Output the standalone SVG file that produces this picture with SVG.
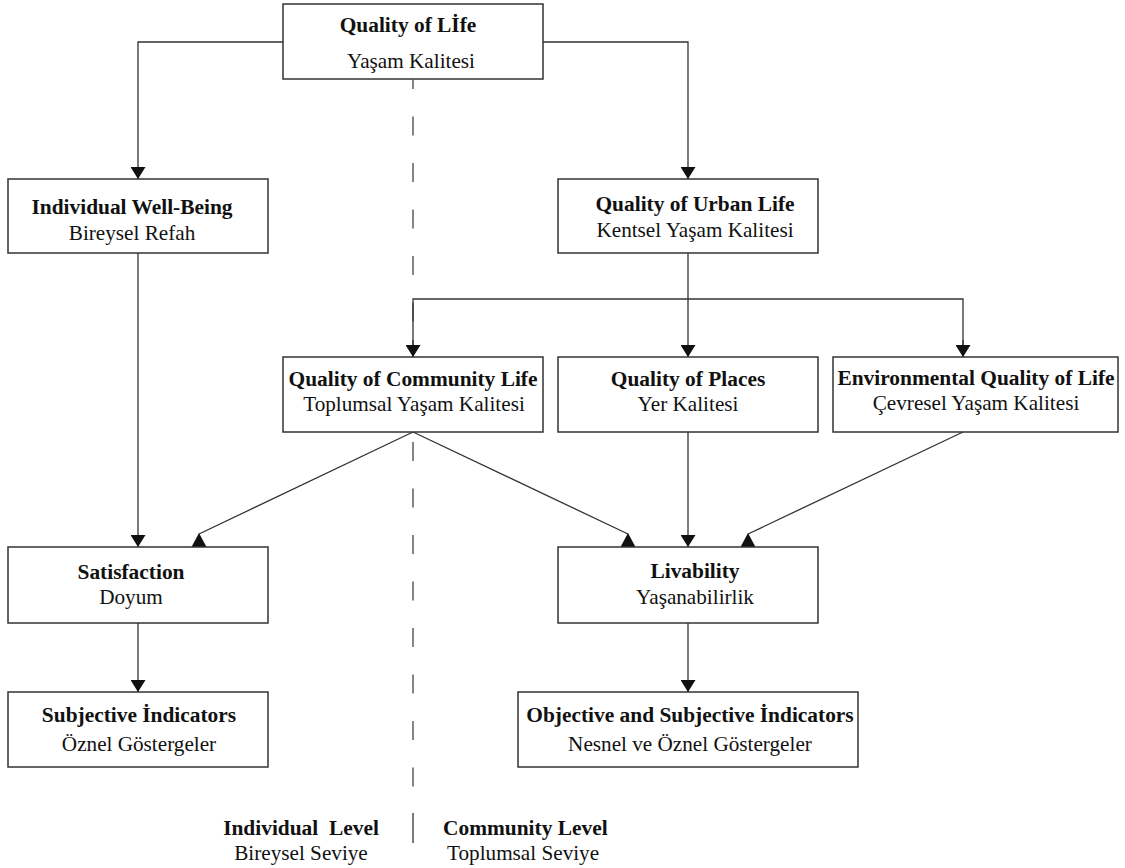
<svg xmlns="http://www.w3.org/2000/svg" width="1125" height="868" viewBox="0 0 1125 868">
<style>
  .box { fill: #ffffff; stroke: #333333; stroke-width: 1.5; }
  .ln { fill: none; stroke: #333333; stroke-width: 1.3; }
  .dash { fill: none; stroke: #444444; stroke-width: 1.3; stroke-dasharray: 19 27.5; stroke-dashoffset: 9.5; }
  .head { fill: #111111; stroke: none; }
  .b { font-family: "Liberation Serif", "Times New Roman", serif; font-weight: bold; font-size: 21.4px; fill: #111111; text-anchor: middle; }
  .r { font-family: "Liberation Serif", "Times New Roman", serif; font-size: 21.2px; fill: #111111; text-anchor: middle; }
  .st { text-anchor: start; }
</style>
<defs>
  <marker id="arr" markerUnits="userSpaceOnUse" markerWidth="12" markerHeight="15" refX="12" refY="7.5" orient="auto">
    <path d="M0,0 L12,7.5 L0,15 z" fill="#111111"/>
  </marker>
</defs>
<rect width="1125" height="868" fill="#ffffff"/>

<g id="divider">
  <line class="dash" x1="413" y1="79.5" x2="413" y2="790"/>
  <line class="ln" x1="413" y1="813" x2="413" y2="843"/>
</g>

<g id="connectors">
  <polyline class="ln" points="283,42 138,42 138,179" marker-end="url(#arr)"/>
  <polyline class="ln" points="543,42 688,42 688,179" marker-end="url(#arr)"/>
  <line class="ln" x1="138" y1="253" x2="138" y2="547" marker-end="url(#arr)"/>
  <line class="ln" x1="688" y1="253" x2="688" y2="357" marker-end="url(#arr)"/>
  <polyline class="ln" points="413,357 413,299 963,299 963,357" />
  <line class="ln" x1="413" y1="340" x2="413" y2="357" marker-end="url(#arr)"/>
  <line class="ln" x1="963" y1="340" x2="963" y2="357" marker-end="url(#arr)"/>
  <line class="ln" x1="688" y1="432" x2="688" y2="547" marker-end="url(#arr)"/>
  <line class="ln" x1="138" y1="623" x2="138" y2="692" marker-end="url(#arr)"/>
  <line class="ln" x1="688" y1="623" x2="688" y2="692" marker-end="url(#arr)"/>
  <line class="ln" x1="413" y1="432" x2="199" y2="534"/>
  <line class="ln" x1="413" y1="432" x2="628" y2="534"/>
  <line class="ln" x1="963" y1="432" x2="748" y2="534"/>
  <polygon class="head" points="199,533 206.5,547 191.5,547"/>
  <polygon class="head" points="628,533 635.5,547 620.5,547"/>
  <polygon class="head" points="748,533 755.5,547 740.5,547"/>
</g>

<g id="n-qol">
  <rect class="box" x="283" y="4" width="260" height="75"/>
  <text class="b" x="408" y="32">Quality of Lİfe</text>
  <text class="r" x="411" y="68">Yaşam Kalitesi</text>
</g>
<g id="n-individual">
  <rect class="box" x="8" y="179" width="260" height="74"/>
  <text class="b" x="132" y="214">Individual Well-Being</text>
  <text class="r" x="132" y="240">Bireysel Refah</text>
</g>
<g id="n-urban">
  <rect class="box" x="558" y="179" width="260" height="74"/>
  <text class="b" x="695" y="211">Quality of Urban Life</text>
  <text class="r" x="695" y="237">Kentsel Yaşam Kalitesi</text>
</g>
<g id="n-community">
  <rect class="box" x="283" y="357" width="260" height="75"/>
  <text class="b" x="413" y="386">Quality of Community Life</text>
  <text class="r" x="414" y="411">Toplumsal Yaşam Kalitesi</text>
</g>
<g id="n-places">
  <rect class="box" x="558" y="357" width="260" height="75"/>
  <text class="b" x="688" y="386">Quality of Places</text>
  <text class="r" x="688" y="411">Yer Kalitesi</text>
</g>
<g id="n-environmental">
  <rect class="box" x="833" y="357" width="285" height="75"/>
  <text class="b" x="976" y="385">Environmental Quality of Life</text>
  <text class="r" x="976" y="410">Çevresel Yaşam Kalitesi</text>
</g>
<g id="n-satisfaction">
  <rect class="box" x="8" y="547" width="260" height="76"/>
  <text class="b" x="131" y="579">Satisfaction</text>
  <text class="r" x="131" y="604">Doyum</text>
</g>
<g id="n-livability">
  <rect class="box" x="558" y="547" width="260" height="76"/>
  <text class="b" x="695" y="578">Livability</text>
  <text class="r" x="695" y="604">Yaşanabilirlik</text>
</g>
<g id="n-subjective">
  <rect class="box" x="8" y="692" width="260" height="75"/>
  <text class="b" x="139" y="722">Subjective İndicators</text>
  <text class="r" x="139" y="751">Öznel Göstergeler</text>
</g>
<g id="n-objective">
  <rect class="box" x="518" y="692" width="340" height="75"/>
  <text class="b" x="690" y="722">Objective and Subjective İndicators</text>
  <text class="r" x="690" y="751">Nesnel ve Öznel Göstergeler</text>
</g>

<g id="levels">
  <text class="b" x="301" y="835" xml:space="preserve">Individual  Level</text>
  <text class="r" x="301" y="860">Bireysel Seviye</text>
  <text class="b st" x="443" y="835">Community Level</text>
  <text class="r st" x="447" y="860">Toplumsal Seviye</text>
</g>
</svg>
